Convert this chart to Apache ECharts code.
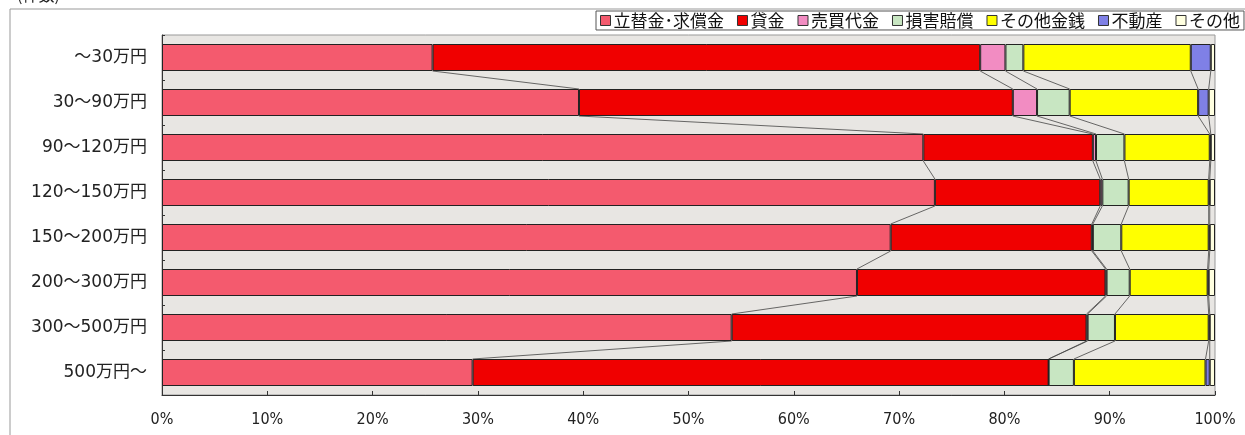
<!DOCTYPE html>
<html>
<head>
<meta charset="utf-8">
<script src="https://cdn.jsdelivr.net/npm/echarts@6/dist/echarts.min.js"></script>
<style>
html,body{margin:0;padding:0;background:#fff;}
#c{width:1245px;height:435px;}
</style>
</head>
<body>
<div id="c"></div>
<script>
var categories = ['～30万円','30～90万円','90～120万円','120～150万円','150～200万円','200～300万円','300～500万円','500万円～'];
var seriesNames = ['立替金･求償金','貸金','売買代金','損害賠償','その他金銭','不動産','その他'];
var tatekae = [25.7,39.6,72.3,73.4,69.2,66.0,54.1,29.5];
var kashikin = [52.0,41.2,16.1,15.7,19.1,23.6,33.7,54.7];
var baibai = [2.4,2.3,0.3,0.2,0.1,0.1,0.1,0.0];
var songai = [1.7,3.1,2.7,2.5,2.7,2.2,2.6,2.4];
var sonotaKinsen = [15.9,12.2,8.1,7.6,8.3,7.4,8.9,12.5];
var fudosan = [1.9,1.0,0.1,0.1,0.1,0.1,0.1,0.4];
var sonota = [0.4,0.6,0.4,0.5,0.5,0.6,0.5,0.5];
var xTicks = [0,10,20,30,40,50,60,70,80,90,100];

var allData = [tatekae,kashikin,baibai,songai,sonotaKinsen,fudosan,sonota];
var colors = ['#f45a6e','#f00000','#f28cc2','#c8e6c2','#ffff00','#7f80e6','#ffffe0'];

var chart = echarts.init(document.getElementById('c'));
var cjk = '"Noto Sans CJK JP","Noto Sans",sans-serif';

// series lines data: boundary k between category i and i+1
var lineData = [];
for (var k = 0; k < allData.length - 1; k++) {
  for (var i = 0; i < categories.length - 1; i++) {
    var c1 = 0, c2 = 0;
    for (var s = 0; s <= k; s++) { c1 += allData[s][i]; c2 += allData[s][i+1]; }
    lineData.push([c1, i, c2, i+1]);
  }
}

var series = allData.map(function(d, idx){
  return {
    name: seriesNames[idx],
    type: 'bar',
    stack: 'total',
    barWidth: '60%',
    data: d,
    itemStyle: {color: colors[idx], borderColor: '#222', borderWidth: 1},
    emphasis: {disabled: true},
    z: 3
  };
});

series.push({
  type: 'custom',
  name: 'lines',
  silent: true,
  z: 2,
  data: lineData,
  encode: {x: [0,2], y: [1,3]},
  renderItem: function(params, api){
    var p1 = api.coord([api.value(0), api.value(1)]);
    var p2 = api.coord([api.value(2), api.value(3)]);
    var h = api.size([0,1])[1] * 0.3;
    return {
      type: 'line',
      shape: {x1: p1[0], y1: p1[1] + h, x2: p2[0], y2: p2[1] - h},
      style: {stroke: '#444', lineWidth: 0.8}
    };
  }
});

chart.setOption({
  animation: false,
  grid: {left: 162, right: 30, top: 35, bottom: 40, show: true, backgroundColor: '#e8e6e3', borderColor: '#999', borderWidth: 1},
  legend: {
    data: seriesNames,
    left: 596, top: 11,
    itemWidth: 10, itemHeight: 10, itemGap: 13,
    icon: 'rect',
    backgroundColor: '#fff',
    borderColor: '#555', borderWidth: 1,
    padding: [1, 4, 1, 4],
    itemStyle: {borderColor: '#333', borderWidth: 1},
    textStyle: {fontFamily: cjk, fontSize: 17, color: '#111', padding: [0,0,0,-2]},
    selectedMode: false
  },
  xAxis: {
    type: 'value', min: 0, max: 100, interval: 10,
    axisLine: {show: true, lineStyle: {color: '#333'}},
    axisTick: {show: true, inside: true, length: 4, lineStyle: {color: '#333'}},
    splitLine: {show: false},
    axisLabel: {formatter: '{value}%', fontFamily: '"Liberation Sans Narrow","DejaVu Sans Condensed",sans-serif', fontSize: 16, color: '#222', margin: 17}
  },
  yAxis: {
    type: 'category', data: categories, inverse: true,
    axisLine: {show: true, lineStyle: {color: '#333'}},
    axisTick: {show: true, inside: true, length: 3, lineStyle: {color: '#333'}},
    axisLabel: {fontFamily: '"DejaVu Sans","Noto Sans CJK JP",sans-serif', fontSize: 17, color: '#222', margin: 15}
  },
  graphic: [
    {type: 'rect', shape: {x: 10, y: 9, width: 1260, height: 460}, style: {fill: 'none', stroke: '#999', lineWidth: 1}, z: -10},
    {type: 'text', left: 17, top: -13, style: {text: '(件数)', font: '16px "Noto Sans CJK JP"', fill: '#222'}}
  ],
  series: series
});
</script>
</body>
</html>
